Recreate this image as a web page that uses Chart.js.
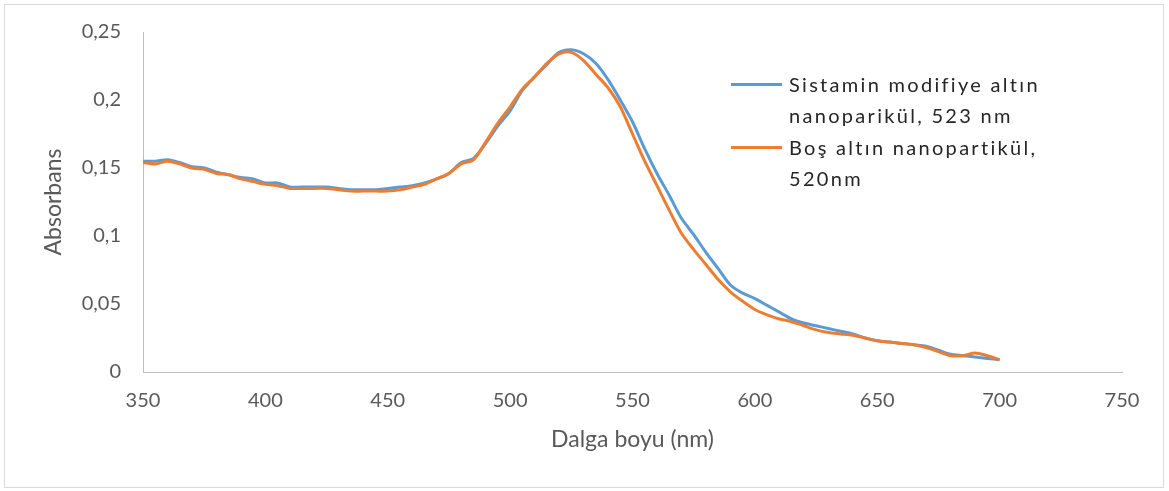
<!DOCTYPE html>
<html>
<head>
<meta charset="utf-8">
<script src="https://cdn.jsdelivr.net/npm/chart.js@4"></script>
<style>
  html, body { margin: 0; padding: 0; background: #fff; }
  #wrap { position: relative; width: 1169px; height: 491px; }
  #frame { position: absolute; left: 4px; top: 4px; width: 1158px; height: 482px; border: 1px solid #d9d9d9; }
  .leg { position: absolute; left: 731px; font-family: Lato, sans-serif; font-size: 20px; letter-spacing: 2.3px; color: #262626; line-height: 31px; }
  .leg span.sw { position: absolute; left: 0; width: 51px; height: 3px; top: 14px; }
  .leg div.tx { margin-left: 58px; white-space: nowrap; }
</style>
</head>
<body>
<div id="wrap">
  <div id="frame"></div>
  <canvas id="spec" width="1169" height="491"></canvas>
  <div class="leg" style="top:69px"><span class="sw" style="background:#5b9bd5"></span><div class="tx">Sistamin modifiye altın<br>nanoparikül, 523 nm</div></div>
  <div class="leg" style="top:132px"><span class="sw" style="background:#ed7d31"></span><div class="tx">Boş altın nanopartikül,<br>520nm</div></div>
</div>
<script>
const wavelengths = [350,355,360,365,370,375,380,385,390,395,400,405,410,415,420,425,430,435,440,445,
  450,455,460,465,470,475,480,485,490,495,500,505,510,515,520,525,530,535,540,545,
  550,555,560,565,570,575,580,585,590,595,600,605,610,615,620,625,630,635,640,645,
  650,655,660,665,670,675,680,685,690,695,700];

const sistamin = [0.155,0.155,0.156,0.154,0.151,0.150,0.147,0.145,0.143,0.142,0.139,0.139,0.136,0.136,0.136,0.136,0.135,0.134,0.134,0.134,
  0.135,0.136,0.137,0.139,0.142,0.146,0.154,0.157,0.168,0.181,0.192,0.207,0.217,0.226,0.235,0.237,0.234,0.227,0.215,0.200,
  0.184,0.164,0.146,0.130,0.113,0.101,0.088,0.076,0.064,0.058,0.054,0.049,0.044,0.039,0.036,0.034,0.032,0.030,0.028,0.025,
  0.023,0.022,0.021,0.020,0.019,0.016,0.013,0.012,0.011,0.010,0.009];

const bos = [0.154,0.153,0.155,0.153,0.150,0.149,0.146,0.145,0.142,0.140,0.138,0.137,0.135,0.135,0.135,0.135,0.134,0.133,0.133,0.133,
  0.133,0.134,0.136,0.138,0.142,0.146,0.153,0.156,0.169,0.183,0.195,0.208,0.217,0.227,0.234,0.235,0.229,0.219,0.209,0.195,
  0.175,0.155,0.137,0.119,0.102,0.090,0.079,0.068,0.059,0.052,0.046,0.042,0.039,0.037,0.034,0.031,0.029,0.028,0.027,0.025,
  0.023,0.022,0.021,0.020,0.018,0.015,0.012,0.012,0.014,0.012,0.009];

const seriesNames = ['Sistamin modifiye altın nanoparikül, 523 nm', 'Boş altın nanopartikül, 520nm'];

function pts(ys) {
  return wavelengths.map((x, i) => ({x: x, y: ys[i]}));
}

const tickFont = {family: 'Lato, sans-serif', size: 20};
const titleFont = {family: 'Lato, sans-serif', size: 23};

new Chart(document.getElementById('spec'), {
  type: 'line',
  data: {
    datasets: [
      {label: seriesNames[0], data: pts(sistamin), borderColor: '#5b9bd5', borderWidth: 3, pointRadius: 0, tension: 0.3, order: 1},
      {label: seriesNames[1], data: pts(bos), borderColor: '#ed7d31', borderWidth: 3, pointRadius: 0, tension: 0.3, order: 0}
    ]
  },
  options: {
    responsive: false,
    animation: false,
    layout: {padding: {left: 0, top: 32, right: 47, bottom: 0}},
    plugins: {legend: {display: false}, tooltip: {enabled: false}},
    scales: {
      x: {
        type: 'linear', min: 350, max: 750,
        ticks: {stepSize: 50, color: '#595959', font: tickFont, padding: 9},
        grid: {display: false},
        border: {display: true, color: '#bfbfbf', width: 1},
        title: {display: true, text: 'Dalga boyu (nm)', color: '#595959', font: titleFont, padding: {bottom: 38}},
        afterFit: s => { s.height = 119; }
      },
      y: {
        min: 0, max: 0.25,
        ticks: {stepSize: 0.05, color: '#595959', font: tickFont, padding: 14,
          callback: v => Number(v.toFixed(2)).toString().replace('.', ',')},
        grid: {display: false},
        border: {display: true, color: '#bfbfbf', width: 1},
        title: {display: true, text: 'Absorbans', color: '#595959', font: titleFont, padding: {top: 40}},
        afterFit: s => { s.width = 143; }
      }
    }
  }
});
</script>
</body>
</html>
